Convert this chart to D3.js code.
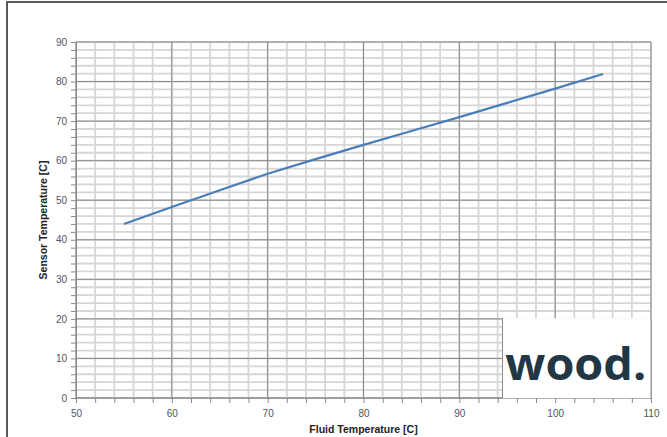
<!DOCTYPE html>
<html>
<head>
<meta charset="utf-8">
<script src="https://cdn.jsdelivr.net/npm/d3@7"></script>
<style>
  body { margin: 0; background: #fff; }
  svg { display: block; font-family: "Liberation Sans", Arial, sans-serif; }
</style>
</head>
<body>
<div id="chart"></div>
<script>
// data
const fluidTemp  = [55, 60, 65, 70, 75, 80, 85, 90, 95, 100, 105];
const sensorTemp = [44, 48.3, 52.5, 56.7, 60.4, 64.0, 67.5, 71.0, 74.6, 78.2, 81.9];
const xTicks = [50, 60, 70, 80, 90, 100, 110];
const yTicks = [0, 10, 20, 30, 40, 50, 60, 70, 80, 90];
const xTitle = "Fluid Temperature [C]";
const yTitle = "Sensor Temperature [C]";
const logoText = "wood.";

const W = 667, H = 437;
const margin = {top: 42, right: 16, bottom: 39, left: 76};
const width = W - margin.left - margin.right;
const height = H - margin.top - margin.bottom;

const svg = d3.select("#chart").append("svg")
    .attr("width", W)
    .attr("height", H);

// outer chart frame
svg.append("rect")
    .attr("x", 7).attr("y", 2)
    .attr("width", W + 10).attr("height", H + 10)
    .attr("fill", "none")
    .attr("stroke", "#5a5a5a")
    .attr("stroke-width", 2);

const g = svg.append("g")
    .attr("transform", `translate(${margin.left},${margin.top})`);

const x = d3.scaleLinear().domain([50, 110]).range([0, width]);
const y = d3.scaleLinear().domain([0, 90]).range([height, 0]);

// minor gridlines
g.append("g").selectAll("line")
    .data(x.ticks(30))
    .join("line")
    .attr("x1", d => x(d)).attr("x2", d => x(d))
    .attr("y1", 0).attr("y2", height)
    .attr("stroke", "#d6d6d6").attr("stroke-width", 1.8);

g.append("g").selectAll("line")
    .data(y.ticks(45))
    .join("line")
    .attr("y1", d => y(d)).attr("y2", d => y(d))
    .attr("x1", 0).attr("x2", width)
    .attr("stroke", "#d6d6d6").attr("stroke-width", 1.8);

// major gridlines
g.append("g").selectAll("line")
    .data(xTicks)
    .join("line")
    .attr("x1", d => x(d)).attr("x2", d => x(d))
    .attr("y1", 0).attr("y2", height)
    .attr("stroke", "#8a8a8a").attr("stroke-width", 1);

g.append("g").selectAll("line")
    .data(yTicks)
    .join("line")
    .attr("y1", d => y(d)).attr("y2", d => y(d))
    .attr("x1", 0).attr("x2", width)
    .attr("stroke", "#8a8a8a").attr("stroke-width", 1);

// the series
const line = d3.line()
    .x((d, i) => x(fluidTemp[i]))
    .y(d => y(d));

g.append("path")
    .datum(sensorTemp)
    .attr("d", line)
    .attr("fill", "none")
    .attr("stroke", "#4a7ebb")
    .attr("stroke-width", 2.2);

// logo box sits over the grid
const logo = g.append("g");
logo.append("rect")
    .attr("x", x(94.5)).attr("y", y(20.2))
    .attr("width", x(110) - x(94.5))
    .attr("height", y(0) - y(20.2))
    .attr("fill", "#fff");
logo.append("line")
    .attr("x1", x(94.5)).attr("x2", x(94.5))
    .attr("y1", y(20.2)).attr("y2", y(0))
    .attr("stroke", "#8a8a8a");
logo.append("line")
    .attr("x1", x(110)).attr("x2", x(110))
    .attr("y1", y(20.2)).attr("y2", y(0))
    .attr("stroke", "#8a8a8a");
logo.append("text")
    .attr("x", x(94.8)).attr("y", y(4.5))
    .attr("textLength", 141)
    .attr("lengthAdjust", "spacingAndGlyphs")
    .style("font-family", "'Open Sans', sans-serif")
    .style("font-weight", 700)
    .style("font-size", "44px")
    .attr("fill", "#223746")
    .text(logoText);

// axes
const xAxis = d3.axisBottom(x).tickValues(x.ticks(30)).tickSize(5)
    .tickFormat(d => xTicks.includes(d) ? d : "");
const yAxis = d3.axisLeft(y).tickValues(y.ticks(45)).tickSize(5)
    .tickFormat(d => yTicks.includes(d) ? d : "");

const gx = g.append("g")
    .attr("transform", `translate(0,${height})`)
    .call(xAxis);
const gy = g.append("g").call(yAxis);

[gx, gy].forEach(a => {
    a.select(".domain").attr("stroke", "#8a8a8a");
    a.selectAll(".tick line").attr("stroke", "#8a8a8a");
    a.selectAll(".tick text")
        .attr("fill", "#4d5566")
        .style("font-size", "10px");
});
gx.select(".domain").attr("d", `M0,0H${x(94.5)}`);
gx.selectAll(".tick text").attr("dy", "1.05em");
gy.selectAll(".tick text").attr("x", -9);

// axis titles
svg.append("text")
    .attr("x", margin.left + width / 2)
    .attr("y", 433)
    .attr("text-anchor", "middle")
    .style("font-size", "10.5px")
    .style("font-weight", "bold")
    .attr("fill", "#222")
    .text(xTitle);

svg.append("text")
    .attr("transform", `translate(47,${margin.top + height / 2}) rotate(-90)`)
    .attr("text-anchor", "middle")
    .style("font-size", "10.5px")
    .style("font-weight", "bold")
    .attr("fill", "#222")
    .text(yTitle);
</script>
</body>
</html>
